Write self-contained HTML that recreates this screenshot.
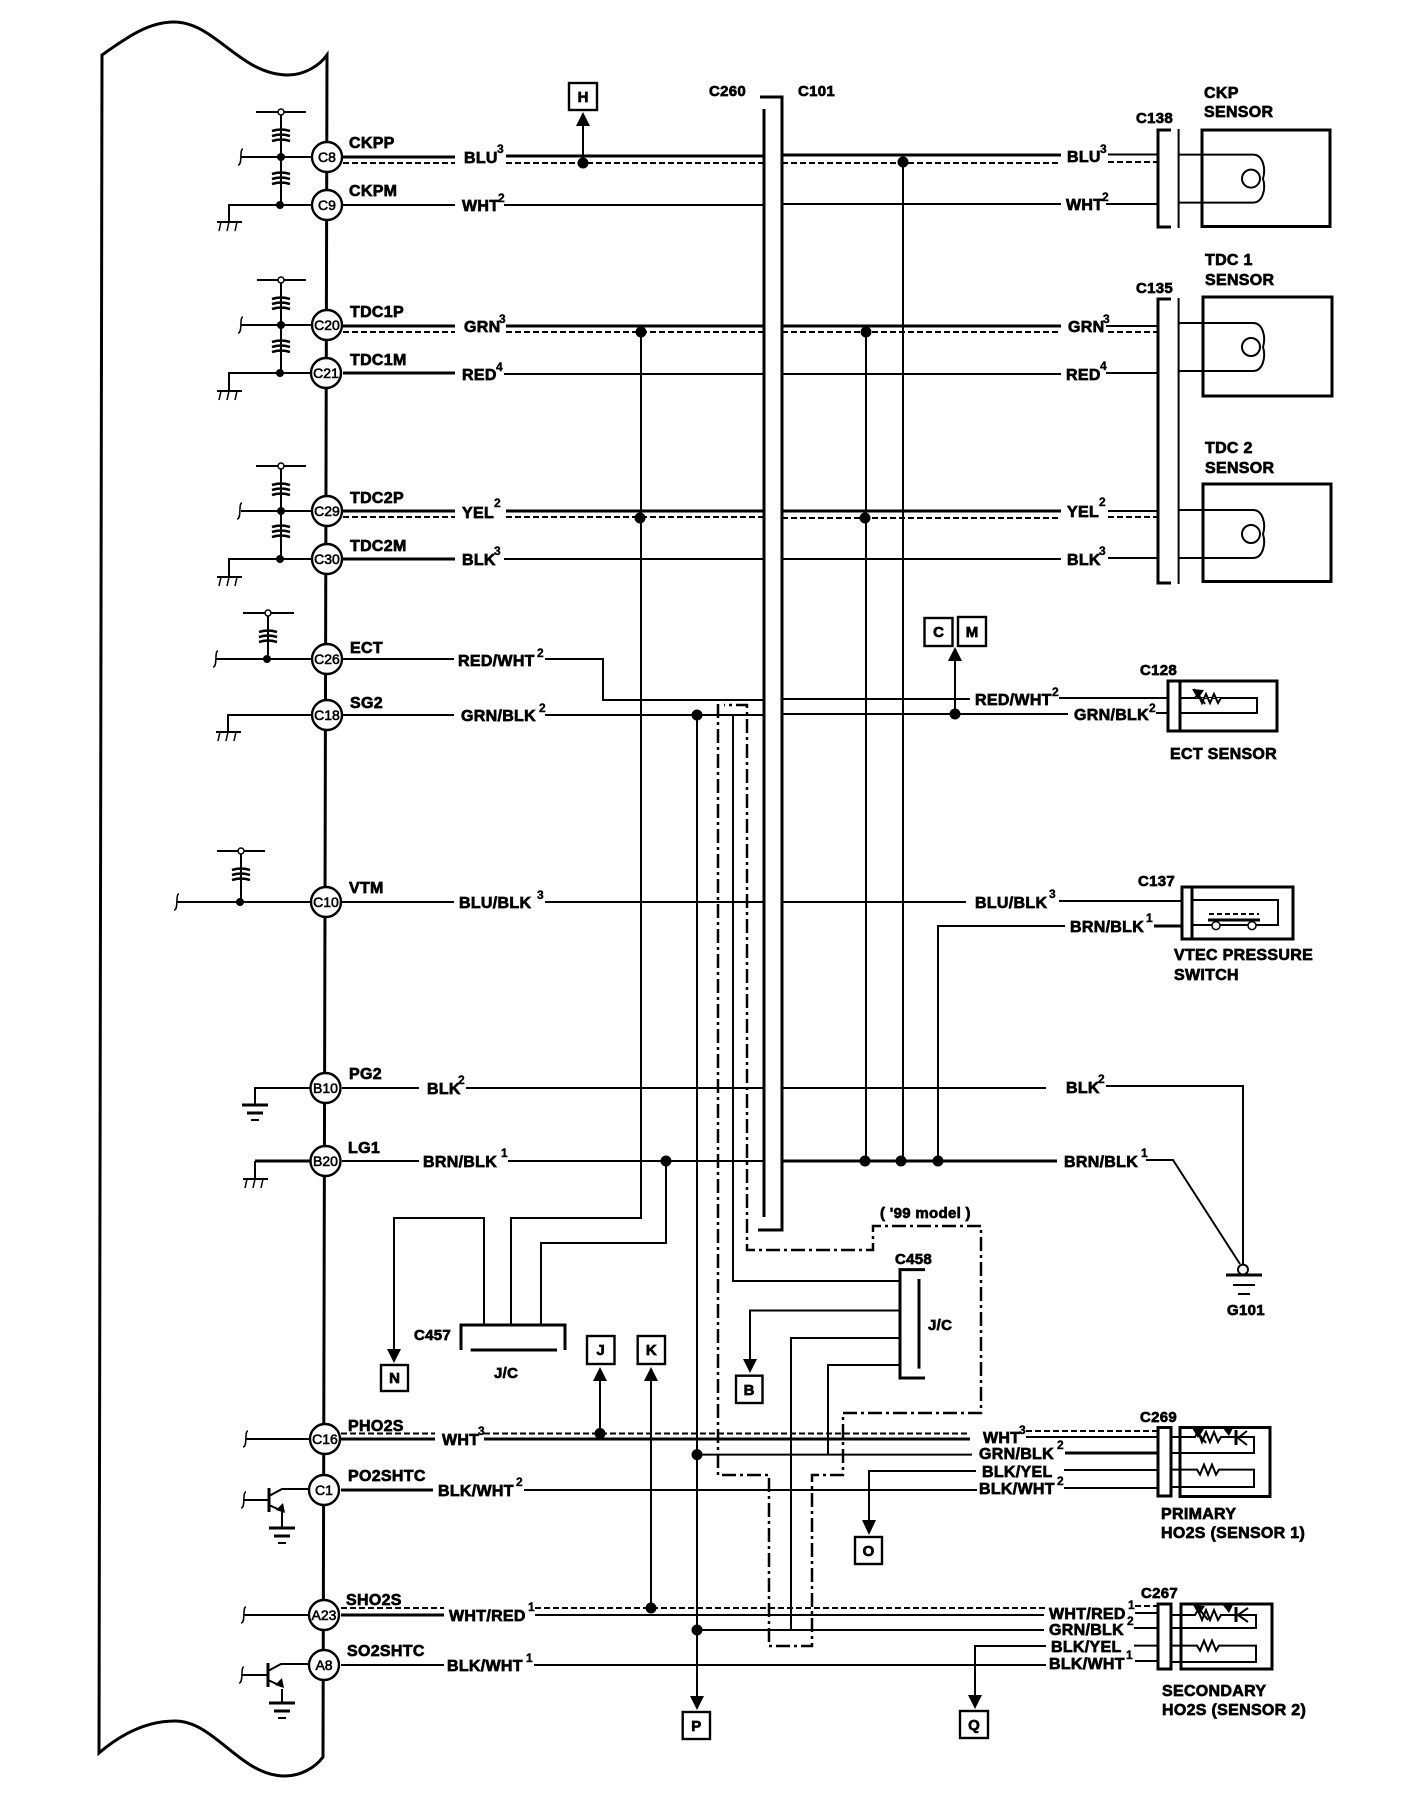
<!DOCTYPE html>
<html><head><meta charset="utf-8"><title>Wiring diagram</title>
<style>
html,body{margin:0;padding:0;background:#fff}
svg{display:block}
text{font-family:"Liberation Sans",Arial,sans-serif;font-weight:700;font-size:16px;fill:#000;stroke:#000;stroke-width:.7;letter-spacing:.3px}
.s{font-size:12px;letter-spacing:0;stroke-width:.4}
.p{font-size:14px;font-weight:400;text-anchor:middle;stroke-width:.6;letter-spacing:0}
.b{text-anchor:middle;font-size:15px;letter-spacing:0}
.w{fill:none;stroke:#000;stroke-width:2}
.t{fill:none;stroke:#000;stroke-width:3}
.n{fill:none;stroke:#000;stroke-width:1.5}
.d{fill:none;stroke:#000;stroke-width:2;stroke-dasharray:6 3}
.dd{fill:none;stroke:#000;stroke-width:2.5;stroke-dasharray:14 4 3 4}
.c{fill:#fff;stroke:#000;stroke-width:2.4}
.bx{fill:#fff;stroke:#000;stroke-width:2.4}
</style></head><body>
<svg xmlns="http://www.w3.org/2000/svg" width="1408" height="1796" viewBox="0 0 1408 1796">
<defs>
<g id="r"><path class="w" d="M0,-9 V9"/><path fill="none" stroke="#000" stroke-width="2.6" d="M-9,-5 Q0,-8 9,-5 M-9,0 Q0,-3 9,0 M-9,5 Q0,2 9,5"/></g>
<g id="f"><path class="n" d="M2,-8 C-2,-8 2,8 -3,8"/></g>
<g id="gh"><path class="w" d="M-12,0 H13"/><path class="n" d="M-8,0 L-10,9 M0,0 L-2,9 M8,0 L6,9"/></g>
<g id="ge"><path class="t" d="M-13,0 H13"/><path class="t" d="M-8,8 H8"/><path class="w" d="M-4,15 H4"/></g>
<g id="coil"><path class="w" d="M0,0 H74 C84,0 87,14 84,24 C87,34 84,48 74,48 H0"/><circle class="w" cx="72" cy="24" r="9"/></g>
<g id="tr"><path class="t" d="M0,0 V24"/><path class="w" d="M-26,12 H0 M0,8 L13,1 H26 M0,17 L13,23"/><path d="M7,22 L14,15 L16,25 Z"/></g>
</defs>

<!-- ECU outline -->
<path class="t" d="M102,55 C130,35 150,22 174,22 C215,22 240,75 288,75 C305,75 320,65 327,55 L323,1757 C315,1768 300,1776 285,1776 C240,1776 215,1721 175,1721 C145,1721 120,1735 99,1753 Z"/>

<!-- CKP pull network -->
<path class="w" d="M256,112 H306 M281,112 V128 M281,144 V170 M281,187 V205 M241,157 H327 M229,221 V205 H327 M343,205 H455"/>
<use href="#r" x="281" y="136"/><use href="#r" x="281" y="179"/><use href="#f" x="241" y="157"/><use href="#gh" x="229" y="222"/>
<circle cx="281" cy="112" r="3" fill="#fff" stroke="#000" stroke-width="1.5"/><circle cx="281" cy="157" r="4"/><circle cx="280" cy="205" r="4"/>
<!-- TDC1 pull network -->
<path class="w" d="M257,280 H306 M281,280 V296 M281,313 V338 M281,356 V373 M241,325 H327 M229,391 V373 H327"/>
<use href="#r" x="281" y="304"/><use href="#r" x="281" y="347"/><use href="#f" x="241" y="325"/><use href="#gh" x="229" y="391"/>
<circle cx="281" cy="280" r="3" fill="#fff" stroke="#000" stroke-width="1.5"/><circle cx="281" cy="325" r="4"/><circle cx="280" cy="373" r="4"/>
<!-- TDC2 pull network -->
<path class="w" d="M256,466 H306 M281,466 V481 M281,498 V523 M281,541 V559 M241,511 H327 M229,577 V559 H327"/>
<use href="#r" x="281" y="490"/><use href="#r" x="281" y="532"/><use href="#f" x="240" y="511"/><use href="#gh" x="229" y="577"/>
<circle cx="281" cy="466" r="3" fill="#fff" stroke="#000" stroke-width="1.5"/><circle cx="281" cy="511" r="4"/><circle cx="280" cy="559" r="4"/>
<!-- ECT -->
<path class="w" d="M243,613 H294 M268,613 V628 M268,646 V659 M216,659 H327 M228,732 V715 H327"/>
<use href="#r" x="268" y="637"/><use href="#f" x="216" y="659"/><use href="#gh" x="228" y="732"/>
<circle cx="268" cy="613" r="3" fill="#fff" stroke="#000" stroke-width="1.5"/><circle cx="267" cy="659" r="4"/>
<!-- VTM -->
<path class="w" d="M217,851 H265 M241,851 V867 M241,884 V902 M177,902 H326"/>
<use href="#r" x="241" y="875"/><use href="#f" x="177" y="902"/>
<circle cx="241" cy="851" r="3" fill="#fff" stroke="#000" stroke-width="1.5"/><circle cx="240" cy="902" r="4"/>
<!-- PG2 LG1 grounds -->
<path class="w" d="M255,1105 V1088 H326"/><use href="#ge" x="255" y="1105"/>
<path class="t" d="M255,1161 H326"/><path class="w" d="M255,1161 V1179"/><use href="#gh" x="255" y="1179"/>
<!-- HO2S left stubs and transistors -->
<path class="w" d="M246,1439 H325 M244,1615 H324"/><use href="#f" x="246" y="1439"/><use href="#f" x="244" y="1615"/>
<use href="#tr" x="269" y="1488"/><path class="w" d="M282,1512 V1528"/><use href="#ge" x="282" y="1528"/><use href="#f" x="244" y="1500"/><path class="w" d="M282,1489 H324"/>
<use href="#tr" x="268" y="1663"/><path class="w" d="M282,1689 V1703"/><use href="#ge" x="282" y="1703"/><use href="#f" x="242" y="1675"/><path class="w" d="M281,1664 H324"/>

<!-- Left side wires -->
<path class="t" d="M343,157 H455 M506,156 H764 M782,155 H1061"/>
<path class="w" d="M1108,154.5 H1157"/>
<path class="d" d="M343,163 H455 M506,163 H764 M782,163 H1061 M1108,162 H1157"/>
<path class="w" d="M504,205 H764 M782,204 H1061 M1106,204 H1157"/>
<path class="t" d="M343,326 H455 M506,326 H764 M782,326 H1061"/><path class="w" d="M1106,326 H1157"/>
<path class="d" d="M343,332 H455 M506,332 H764 M782,332 H1061 M1108,332 H1157"/>
<path class="t" d="M343,373 H455"/><path class="w" d="M504,374 H764 M782,374 H1061 M1106,373 H1157"/>
<path class="t" d="M343,511 H455 M506,511 H764 M782,511 H1061"/><path class="w" d="M1108,511 H1157"/>
<path class="d" d="M343,517 H455 M506,517 H764 M782,518 H1061 M1108,517 H1157"/>
<path class="t" d="M343,559 H455"/><path class="w" d="M504,559 H764 M782,559 H1061 M1108,558 H1157"/>

<path class="w" d="M342,659 H454 M545,659 H603 V700 H764 M782,699 H970 M1059,698 H1169"/>
<path class="w" d="M342,715 H454 M545,715 H764 M782,714 H1068 M1156,713 H1169"/>
<path class="w" d="M342,902 H454 M545,902 H764 M782,902 H966 M1059,901 H1181"/>
<path class="t" d="M1154,926 H1182"/>
<path class="w" d="M938,1161 V926 H1065"/>
<path class="w" d="M342,1088 H419 M466,1088 H764 M782,1088 H1046 M1106,1086 H1243 V1264"/>
<path class="w" d="M342,1161 H419 M508,1161 H764"/>
<path class="t" d="M782,1161 H1057"/>
<path class="w" d="M1146,1160 H1173 L1240,1264"/>

<!-- Long verticals -->
<path class="w" d="M641,332 V1218 H511 V1325 M484,1325 V1218 H394 V1350"/>
<path class="w" d="M866,332 V1161 M903,162 V1161 M666,1161 V1243 H541 V1325"/>
<path class="w" d="M697,715 V1698"/>
<path class="w" d="M733,715 V1281 H900"/>
<path class="w" d="M899,1310.5 H750 V1360"/>
<path class="w" d="M899,1338 H791 V1629"/>
<path class="w" d="M899,1365 H828 V1454"/>
<!-- Dash-dot loop -->
<path class="dd" d="M718,704 V1475 H769 V1646 H812 V1475 H843 V1413 H981 V1226 H873 V1250 H747 V705 H724"/>
<!-- Main channel -->
<path class="t" d="M760,97 H782 V1230 H758 M764,109 V1217"/>

<!-- Lower wires -->
<path class="d" d="M341,1433.5 H435 M484,1433.5 H970 M1026,1431 H1157"/>
<path class="t" d="M341,1439 H435 M484,1439 H970"/><path class="w" d="M1026,1437 H1157"/>
<path class="t" d="M341,1490 H433"/><path class="w" d="M524,1490 H977 M1064,1488 H1157"/>
<path class="w" d="M697,1454.6 H972"/><path class="t" d="M1065,1453 H1157"/>
<path class="w" d="M976,1471 H869 V1520 M1064,1470 H1157"/>
<path class="d" d="M341,1608 H444 M535,1608 H1046 M1135,1606 H1157"/>
<path class="t" d="M341,1615 H444"/><path class="w" d="M535,1615 H1044 M1135,1613 H1157"/>
<path class="w" d="M697,1630 H1044 M1134,1628 H1157"/>
<path class="w" d="M341,1665 H444 M534,1665 H1046 M1135,1661 H1157"/>
<path class="w" d="M1046,1646 H975 V1695 M1134,1645.6 H1157"/>
<path class="w" d="M600,1433 V1380 M651,1608 V1380 M583,163 V126 M955,714 V661"/>

<!-- Arrowheads -->
<path d="M583,112 L576,126 H590 Z M955,647 L948,661 H962 Z M600,1367 L593,1381 H607 Z M651,1367 L644,1381 H658 Z"/>
<path d="M394,1363 L387,1349 H401 Z M750,1373 L743,1359 H757 Z M869,1535 L862,1520 H876 Z M697,1710 L690,1696 H704 Z M975,1709 L968,1695 H982 Z"/>

<!-- Junction dots -->
<g>
<circle cx="583" cy="163" r="5.5"/><circle cx="903" cy="162" r="5.500"/><circle cx="641" cy="332" r="5.500"/><circle cx="866" cy="332" r="5.500"/>
<circle cx="640" cy="518" r="5.500"/><circle cx="865" cy="518" r="5.500"/><circle cx="697" cy="715" r="5.500"/><circle cx="955" cy="714" r="5.500"/>
<circle cx="666" cy="1161" r="5.500"/><circle cx="865" cy="1161" r="5.500"/><circle cx="901" cy="1161" r="5.500"/><circle cx="938" cy="1161" r="5.500"/>
<circle cx="600" cy="1433.5" r="5.500"/><circle cx="697" cy="1454.6" r="5.500"/><circle cx="651" cy="1608" r="5.500"/><circle cx="697" cy="1630" r="5.500"/>
</g>

<!-- Pin circles -->
<g>
<circle class="c" cx="327" cy="157" r="15"/><text class="p" x="327" y="162">C8</text>
<circle class="c" cx="327" cy="205" r="15"/><text class="p" x="327" y="210">C9</text>
<circle class="c" cx="327" cy="325" r="15"/><text class="p" x="327" y="330">C20</text>
<circle class="c" cx="326" cy="373" r="15"/><text class="p" x="326" y="378">C21</text>
<circle class="c" cx="327" cy="511" r="15"/><text class="p" x="327" y="516">C29</text>
<circle class="c" cx="327" cy="559" r="15"/><text class="p" x="327" y="564">C30</text>
<circle class="c" cx="327" cy="659" r="15"/><text class="p" x="327" y="664">C26</text>
<circle class="c" cx="327" cy="715" r="15"/><text class="p" x="327" y="720">C18</text>
<circle class="c" cx="326" cy="902" r="15"/><text class="p" x="326" y="907">C10</text>
<circle class="c" cx="325.500" cy="1088" r="15"/><text class="p" x="325.500" y="1093">B10</text>
<circle class="c" cx="325.500" cy="1161" r="15"/><text class="p" x="325.500" y="1166">B20</text>
<circle class="c" cx="325" cy="1439" r="15"/><text class="p" x="325" y="1444">C16</text>
<circle class="c" cx="324" cy="1490" r="15"/><text class="p" x="324" y="1495">C1</text>
<circle class="c" cx="324" cy="1615" r="15"/><text class="p" x="324" y="1620">A23</text>
<circle class="c" cx="324" cy="1665" r="15"/><text class="p" x="324" y="1670">A8</text>
</g>

<!-- Pin names -->
<text x="349" y="148">CKPP</text><text x="349" y="196">CKPM</text>
<text x="350" y="317">TDC1P</text><text x="350" y="365">TDC1M</text>
<text x="350" y="503">TDC2P</text><text x="350" y="551">TDC2M</text>
<text x="350" y="653">ECT</text><text x="350" y="708">SG2</text>
<text x="349" y="893">VTM</text><text x="349" y="1079">PG2</text><text x="348" y="1153">LG1</text>
<text x="348" y="1431">PHO2S</text><text x="348" y="1481">PO2SHTC</text>
<text x="346" y="1605">SHO2S</text><text x="347" y="1656">SO2SHTC</text>

<!-- Wire colour labels (left) -->
<text x="464" y="163">BLU</text><text class="s" x="497" y="153">3</text>
<text x="462" y="211">WHT</text><text class="s" x="498" y="202">2</text>
<text x="464" y="332">GRN</text><text class="s" x="499" y="323">3</text>
<text x="462" y="380">RED</text><text class="s" x="496" y="371">4</text>
<text x="462" y="518">YEL</text><text class="s" x="494" y="507">2</text>
<text x="462" y="565">BLK</text><text class="s" x="494" y="555">3</text>
<text x="458" y="666">RED/WHT</text><text class="s" x="537" y="657">2</text>
<text x="461" y="721">GRN/BLK</text><text class="s" x="539" y="712">2</text>
<text x="459" y="908">BLU/BLK</text><text class="s" x="537" y="899">3</text>
<text x="427" y="1094">BLK</text><text class="s" x="458" y="1084">2</text>
<text x="423" y="1167">BRN/BLK</text><text class="s" x="501" y="1157">1</text>
<text x="442" y="1445">WHT</text><text class="s" x="478" y="1435">3</text>
<text x="438" y="1496">BLK/WHT</text><text class="s" x="516" y="1486">2</text>
<text x="449" y="1621">WHT/RED</text><text class="s" x="528" y="1611">1</text>
<text x="447" y="1671">BLK/WHT</text><text class="s" x="526" y="1662">1</text>

<!-- Wire colour labels (right) -->
<text x="1067" y="162">BLU</text><text class="s" x="1100" y="153">3</text>
<text x="1066" y="210">WHT</text><text class="s" x="1102" y="201">2</text>
<text x="1068" y="332">GRN</text><text class="s" x="1103" y="323">3</text>
<text x="1066" y="380">RED</text><text class="s" x="1100" y="370">4</text>
<text x="1067" y="517">YEL</text><text class="s" x="1099" y="506">2</text>
<text x="1067" y="565">BLK</text><text class="s" x="1099" y="555">3</text>
<text x="975" y="705">RED/WHT</text><text class="s" x="1052" y="696">2</text>
<text x="1074" y="720">GRN/BLK</text><text class="s" x="1149" y="712">2</text>
<text x="975" y="908">BLU/BLK</text><text class="s" x="1049" y="898">3</text>
<text x="1070" y="932">BRN/BLK</text><text class="s" x="1146" y="922">1</text>
<text x="1066" y="1093">BLK</text><text class="s" x="1098" y="1083">2</text>
<text x="1064" y="1167">BRN/BLK</text><text class="s" x="1141" y="1157">1</text>
<text x="983" y="1443">WHT</text><text class="s" x="1019" y="1434">3</text>
<text x="979" y="1459">GRN/BLK</text><text class="s" x="1057" y="1449">2</text>
<text x="982" y="1477">BLK/YEL</text>
<text x="979" y="1494">BLK/WHT</text><text class="s" x="1057" y="1485">2</text>
<text x="1049" y="1619">WHT/RED</text><text class="s" x="1128" y="1609">1</text>
<text x="1049" y="1635">GRN/BLK</text><text class="s" x="1127" y="1625">2</text>
<text x="1051" y="1652">BLK/YEL</text>
<text x="1049" y="1669">BLK/WHT</text><text class="s" x="1126" y="1659">1</text>

<!-- Connector labels -->
<text x="709" y="96" style="font-size:15px">C260</text><text x="798" y="96" style="font-size:15px">C101</text>
<text x="1136" y="123" style="font-size:15px">C138</text><text x="1136" y="293" style="font-size:15px">C135</text>
<text x="1140" y="675" style="font-size:15px">C128</text><text x="1138" y="886" style="font-size:15px">C137</text>
<text x="414" y="1340" style="font-size:15px">C457</text><text x="895" y="1264" style="font-size:15px">C458</text>
<text x="1140" y="1422" style="font-size:15px">C269</text><text x="1141" y="1598" style="font-size:15px">C267</text>
<text x="1227" y="1315" style="font-size:15px">G101</text>
<text x="494" y="1378" style="font-size:15px">J/C</text><text x="928" y="1330" style="font-size:15px">J/C</text>
<text x="880" y="1218" style="font-size:15px">( '99 model )</text>

<!-- Sensor names -->
<text x="1204" y="98">CKP</text><text x="1204" y="117">SENSOR</text>
<text x="1205" y="265">TDC 1</text><text x="1205" y="285">SENSOR</text>
<text x="1205" y="453">TDC 2</text><text x="1205" y="473">SENSOR</text>
<text x="1170" y="759">ECT SENSOR</text>
<text x="1174" y="960">VTEC PRESSURE</text><text x="1174" y="980">SWITCH</text>
<text x="1161" y="1519">PRIMARY</text><text x="1161" y="1538">HO2S (SENSOR 1)</text>
<text x="1162" y="1696">SECONDARY</text><text x="1162" y="1715">HO2S (SENSOR 2)</text>

<!-- Connectors -->
<path class="t" d="M1171,130 H1158 V227 H1171"/><path class="w" d="M1178.600,129 V228"/>
<path class="t" d="M1171,299 H1158 V583 H1171"/><path class="w" d="M1178.600,298 V584"/>
<!-- Sensor boxes -->
<rect class="t" x="1202" y="130" width="128" height="96.500"/><use href="#coil" x="1179" y="154.600"/>
<rect class="t" x="1203" y="297" width="129" height="99"/><use href="#coil" x="1179" y="323"/>
<rect class="t" x="1203" y="484" width="128" height="97.500"/><use href="#coil" x="1179" y="510"/>

<!-- ECT sensor -->
<rect class="t" x="1168" y="681" width="109" height="50"/><path class="t" d="M1180,681 V731"/>
<path class="w" d="M1181,698 H1257 V713 H1181"/>
<path fill="#fff" stroke="#000" stroke-width="2" d="M1195,698 l3,-4 4,9 4,-9 4,9 4,-9 4,9 3,-5"/>
<path class="w" d="M1194,689 L1205,704"/><path d="M1192,689 L1204,690 L1198,699 Z"/>

<!-- VTEC switch -->
<rect class="t" x="1182" y="887" width="111" height="52"/><path class="t" d="M1192,887 V939"/>
<path class="w" d="M1192,900 H1278 V925 H1192"/>
<path class="w" d="M1209,914 H1259" stroke-dasharray="5 3"/><path class="t" d="M1208,920 H1260"/>
<circle cx="1216" cy="925.600" r="4" fill="#fff" stroke="#000" stroke-width="1.5"/><circle cx="1252" cy="925.600" r="4" fill="#fff" stroke="#000" stroke-width="1.5"/>

<!-- G101 -->
<circle cx="1243" cy="1269.600" r="5" fill="#fff" stroke="#000" stroke-width="2"/>
<path class="t" d="M1226,1275 H1262"/><path class="w" d="M1233,1285 H1255 M1238,1294 H1250"/>

<!-- C457 -->
<path class="t" d="M461,1350 V1325 H565 V1350"/><path class="t" d="M470.600,1350 H557"/>
<!-- C458 -->
<path class="t" d="M925,1269.600 H900 V1378 H925"/><path class="t" d="M919,1279 V1368.600"/>

<!-- Primary HO2S -->
<path class="t" d="M1158,1427.500 H1171 V1496 H1158 Z"/>
<rect class="t" x="1180" y="1427.500" width="90" height="69"/>
<path class="w" d="M1171,1437 H1195 l3,-5 4,10 4,-10 4,10 4,-10 4,10 3,-5 H1254 V1453 H1171"/>
<path class="w" d="M1171,1469.600 H1197 l3,5 4,-10 4,10 4,-10 4,10 3,-5 H1254 V1487 H1171"/>
<path class="t" d="M1236,1430 V1445"/><path class="w" d="M1238,1438 L1247,1431 M1238,1438 L1247,1445"/>
<path class="w" d="M1194,1428 L1206,1443"/><path d="M1192,1428 L1204,1429 L1198,1438 Z"/><path d="M1222,1427 L1233,1428 L1229,1436 Z"/>

<!-- Secondary HO2S -->
<path class="t" d="M1158,1604 H1171 V1669 H1158 Z"/>
<rect class="t" x="1181" y="1604" width="91" height="65"/>
<path class="w" d="M1171,1615 H1195 l3,-5 4,10 4,-10 4,10 4,-10 4,10 3,-5 H1256 V1628 H1171"/>
<path class="w" d="M1171,1645.600 H1197 l3,5 4,-10 4,10 4,-10 4,10 3,-5 H1256 V1662 H1171"/>
<path class="t" d="M1236,1607 V1622"/><path class="w" d="M1238,1615 L1248,1608 M1238,1615 L1248,1622"/>
<path class="w" d="M1196,1605 L1208,1620"/><path d="M1193,1605 L1205,1606 L1199,1615 Z"/><path d="M1222,1604 L1233,1605 L1229,1613 Z"/>

<!-- Reference boxes -->
<rect class="bx" x="569" y="83" width="28" height="27"/><text class="b" x="583" y="102">H</text>
<rect class="bx" x="924.500" y="618" width="28" height="28"/><text class="b" x="938.500" y="637">C</text>
<rect class="bx" x="958" y="617" width="28" height="29"/><text class="b" x="972" y="637">M</text>
<rect class="bx" x="381" y="1365" width="27" height="26"/><text class="b" x="394.500" y="1383">N</text>
<rect class="bx" x="587" y="1336" width="27.500" height="28"/><text class="b" x="600.500" y="1355">J</text>
<rect class="bx" x="637.700" y="1336" width="27.300" height="28"/><text class="b" x="651.300" y="1355">K</text>
<rect class="bx" x="736" y="1375.700" width="26.500" height="27.300"/><text class="b" x="749" y="1395">B</text>
<rect class="bx" x="855" y="1537" width="27" height="27"/><text class="b" x="868.500" y="1556">O</text>
<rect class="bx" x="682.700" y="1712" width="27.300" height="27"/><text class="b" x="696.300" y="1731">P</text>
<rect class="bx" x="960" y="1711" width="28" height="27"/><text class="b" x="974" y="1730">Q</text>
</svg>
</body></html>
